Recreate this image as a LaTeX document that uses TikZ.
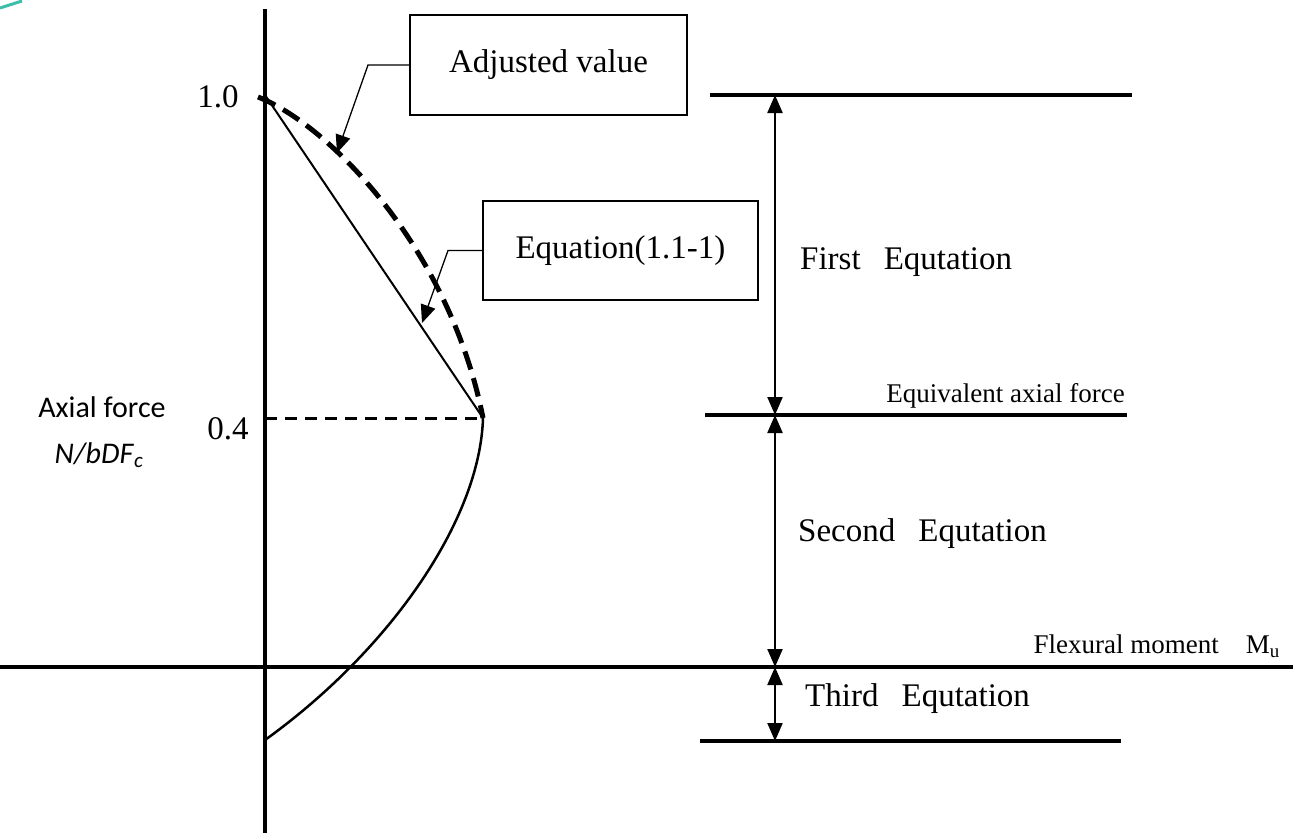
\documentclass[tikz,border=0pt]{standalone}
\usepackage{fontspec}
\setmainfont{Liberation Serif}
\newfontfamily\carlfont{Carlito}
\usetikzlibrary{arrows.meta}
\definecolor{tealdeco}{RGB}{60,190,170}
\begin{document}
\begin{tikzpicture}[x=1pt,y=-1pt,
  axisline/.style={line width=3.2pt},
  levelline/.style={line width=3.5pt},
  labelbox/.style={draw,line width=1.4pt,minimum width=277pt,minimum height=100pt,inner sep=0pt,font=\fontsize{33}{40}\selectfont},
  leader/.style={line width=1.3pt,-{Triangle[width=15pt,length=18pt]}},
  span/.style={line width=2.2pt,{Triangle[width=15pt,length=18pt]}-{Triangle[width=15pt,length=18pt]}},
  big/.style={font=\fontsize{33}{40}\selectfont,inner sep=0pt},
  small/.style={font=\fontsize{27}{32}\selectfont,inner sep=0pt},
  sanslabel/.style={font=\carlfont\fontsize{30}{36}\selectfont,inner sep=0pt}]
\useasboundingbox (0,0) rectangle (1293,836);
% decoration
\draw[tealdeco,line width=3pt] (0,8) -- (22,1);
% axes
\coordinate (axtop) at (265,9);
\coordinate (axbot) at (265,833);
\coordinate (hl) at (0,667);
\coordinate (hr) at (1293,667);
\draw[axisline] (axtop) -- (axbot);
\draw[axisline] (hl) -- (hr);
% curves
\coordinate (P10) at (265,95);
\coordinate (P10d) at (258,97);
\coordinate (P04) at (483,418);
\coordinate (y04) at (265,418);
\coordinate (Pbot) at (265,740);
\draw[line width=3pt,dash pattern=on 12pt off 8pt] (y04) -- (P04);
\draw[line width=2pt] (P10) -- (P04);
\draw[line width=5pt,dash pattern=on 19pt off 9pt] (P10d) .. controls (330,125) and (450,250) .. (P04);
\draw[line width=2.5pt] (P04) .. controls (480,520) and (390,650) .. (Pbot);
% boxes and leaders
\node[labelbox] (adj) at (548.5,65) {Adjusted value};
\node[labelbox,minimum width=275pt,minimum height=99pt] (eqn) at (620.5,250.5) {Equation(1.1-1)};
\coordinate (adjk) at (368,65);
\coordinate (adjt) at (337,153);
\coordinate (eqnk) at (448,250.5);
\coordinate (eqnt) at (422,323);
\draw[leader] (adj.west) -- (adjk) -- (adjt);
\draw[leader] (eqn.west) -- (eqnk) -- (eqnt);
% level lines
\coordinate (L1a) at (710,95);
\coordinate (L1b) at (1132,95);
\coordinate (L2a) at (705,415);
\coordinate (L2b) at (1127,415);
\coordinate (L3a) at (700,741);
\coordinate (L3b) at (1121,741);
\draw[levelline] (L1a) -- (L1b);
\draw[levelline] (L2a) -- (L2b);
\draw[levelline] (L3a) -- (L3b);
% spans
\coordinate (s1) at (775,95);
\coordinate (s2) at (775,415);
\coordinate (s3) at (775,667);
\coordinate (s4) at (775,741);
\draw[span] (s1) -- (s2);
\draw[span] (s2) -- (s3);
\draw[span] (s3) -- (s4);
% labels
\node[big,anchor=west] (first) at (800,262) {First\hspace{0.7em}Equtation};
\node[big,anchor=west] (second) at (798,534) {Second\hspace{0.7em}Equtation};
\node[big,anchor=west] (third) at (805,699) {Third\hspace{0.7em}Equtation};
\node[small,anchor=east] (equiv) at (1125,396) {Equivalent axial force};
\node[small,anchor=east] (flex) at (1280,646) {Flexural moment\hspace{1em}M\textsubscript{u}};
\node[big] (t10) at (218,97) {1.0};
\node[big] (t04) at (228,429) {0.4};
\node[sanslabel] (ax1) at (102,407) {Axial force};
\node[sanslabel] (ax2) at (99,455) {\textit{N/bDF}\textsubscript{\textit{c}}};
\end{tikzpicture}
\end{document}
